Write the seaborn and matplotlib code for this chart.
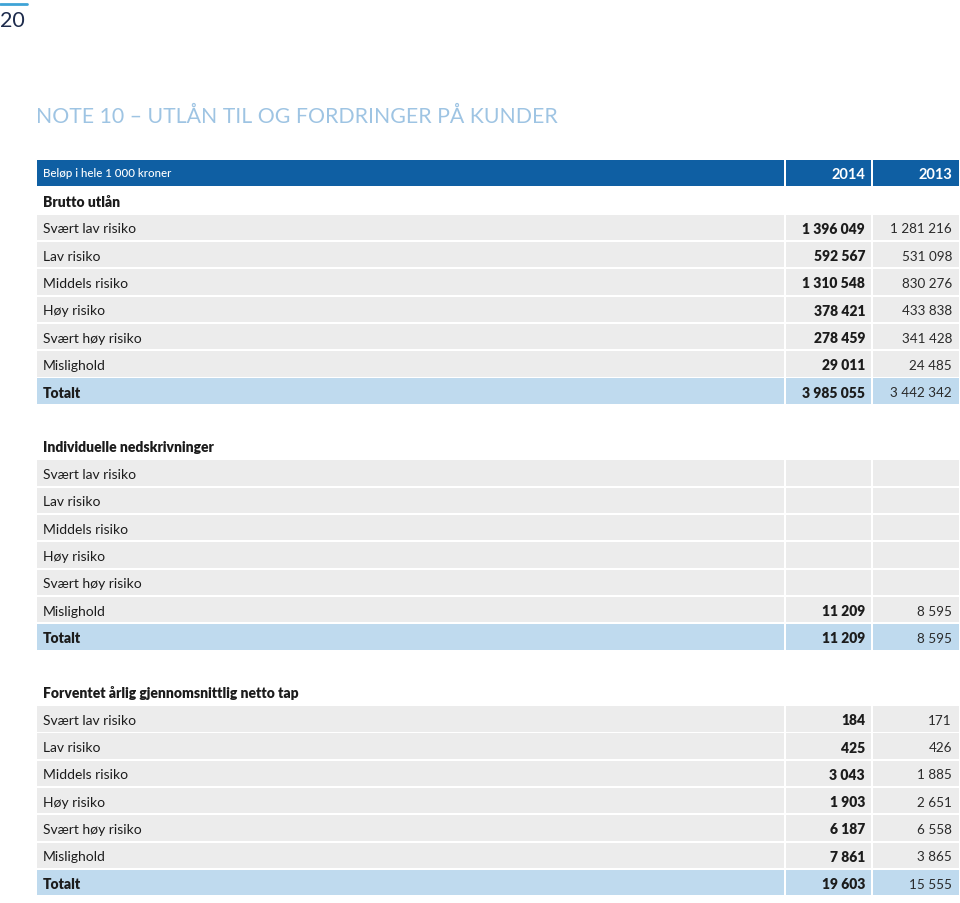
import matplotlib
matplotlib.use("Agg")
import matplotlib.pyplot as plt
import seaborn as sns
import pandas as pd

# --- data ---
row_labels = ["Svært lav risiko", "Lav risiko", "Middels risiko", "Høy risiko",
              "Svært høy risiko", "Mislighold", "Totalt"]
years = ["2014", "2013"]

sections = ["Brutto utlån", "Individuelle nedskrivninger",
            "Forventet årlig gjennomsnittlig netto tap"]

brutto_2014 = [1396049, 592567, 1310548, 378421, 278459, 29011, 3985055]
brutto_2013 = [1281216, 531098, 830276, 433838, 341428, 24485, 3442342]
indiv_2014 = [None, None, None, None, None, 11209, 11209]
indiv_2013 = [None, None, None, None, None, 8595, 8595]
tap_2014 = [184, 425, 3043, 1903, 6187, 7861, 19603]
tap_2013 = [171, 426, 1885, 2651, 6558, 3865, 15555]

page_number = "20"
title = "NOTE 10 – UTLÅN TIL OG FORDRINGER PÅ KUNDER"
unit_label = "Beløp i hele 1 000 kroner"

# colours
HEAD_BLUE = "#0f5fa3"
TOTAL_BLUE = "#bfdaee"
ROW_GRAY = "#ececec"
TITLE_BLUE = "#9ec4e3"
TEXT = "#1c1c1c"


def fmt(v):
    if v is None:
        return ""
    return f"{v:,}".replace(",", " ")


# build a row table: kind, label, values
records = [("header", unit_label, years[0], years[1])]
values = [(brutto_2014, brutto_2013), (indiv_2014, indiv_2013), (tap_2014, tap_2013)]
for s, (a, b) in enumerate(values):
    if s > 0:
        records.append(("blank", "", "", ""))
    records.append(("section", sections[s], "", ""))
    for lab, v1, v2 in zip(row_labels, a, b):
        kind = "total" if lab == "Totalt" else "row"
        records.append((kind, lab, fmt(v1), fmt(v2)))
df = pd.DataFrame(records, columns=["kind", "label", "y2014", "y2013"])

# layout (pixel units)
W, H = 960, 904
top, pitch, cell_h = 173.8, 27.3, 25.5
col_left = [37, 786, 873]
col_right = [784, 871, 959]
df["y"] = top + df.index * pitch

fill = {"header": HEAD_BLUE, "total": TOTAL_BLUE, "row": ROW_GRAY}

sns.set_theme(style="white")
plt.rcParams["font.family"] = ["Lato", "DejaVu Sans"]

fig = plt.figure(figsize=(W / 100, H / 100), dpi=100)
ax = fig.add_axes([0, 0, 1, 1])
ax.set_xlim(0, W)
ax.set_ylim(H, 0)
ax.axis("off")

# cell backgrounds
for kind, color in fill.items():
    sub = df[df["kind"] == kind]
    for l, r in zip(col_left, col_right):
        ax.barh(sub["y"], r - l, left=l, height=cell_h, color=color, linewidth=0)

# texts
for _, row in df.iterrows():
    y = row["y"]
    if row["kind"] == "header":
        ax.text(43, y, row["label"], color="white", fontsize=8.3, fontweight="medium",
                va="center")
        ax.text(865, y + 1, row["y2014"], color="white", fontsize=10.5, fontweight="bold",
                va="center", ha="right")
        ax.text(952, y + 1, row["y2013"], color="white", fontsize=10.5, fontweight="bold",
                va="center", ha="right")
    elif row["kind"] == "section":
        ax.text(43, y + 1, row["label"], color=TEXT, fontsize=10, fontweight="heavy", va="center")
    elif row["kind"] in ("row", "total"):
        bold = row["kind"] == "total"
        ax.text(43, y + 1, row["label"], color=TEXT, fontsize=10,
                fontweight="heavy" if bold else "normal", va="center")
        ax.text(865, y + 1, row["y2014"], color=TEXT, fontsize=10, fontweight="heavy",
                va="center", ha="right")
        ax.text(952, y + 1, row["y2013"], color="#2a2a2a", fontsize=9.7, fontweight="normal",
                va="center", ha="right")

# page header
ax.plot([0, 27], [5, 5], color="#3fa3d6", linewidth=2)
ax.text(0, 21, page_number, color="#1d2b4c", fontsize=15.5, va="center", ha="left")
ax.text(36, 117, title, color=TITLE_BLUE, fontsize=15.3, va="center", ha="left")

fig.savefig("out.png", dpi=100)
plt.close(fig)
